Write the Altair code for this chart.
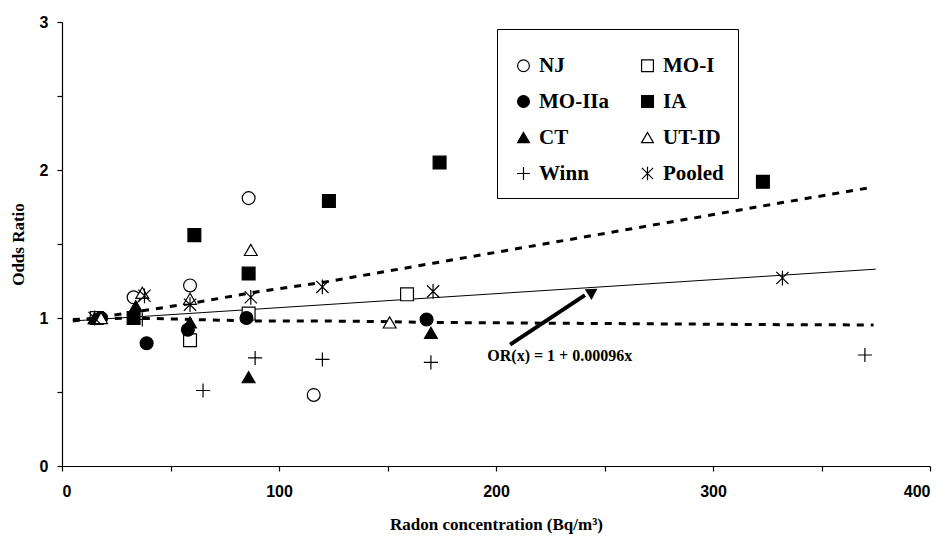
import altair as alt
import pandas as pd

# ---------------- data ----------------
series_names = ["NJ", "MO-I", "MO-IIa", "IA", "CT", "UT-ID", "Winn", "Pooled"]
# legend fills column by column: list the two columns one after the other
legend_order = ["NJ", "MO-IIa", "CT", "Winn", "MO-I", "IA", "UT-ID", "Pooled"]

nj_x = [17, 33, 59, 86, 116]
nj_y = [1.00, 1.14, 1.22, 1.81, 0.48]

moi_x = [16, 59, 86, 159]
moi_y = [1.00, 0.85, 1.03, 1.16]

moiia_x = [18, 39, 58, 85, 168]
moiia_y = [1.00, 0.83, 0.92, 1.00, 0.99]

ia_x = [33, 61, 86, 123, 174, 323]
ia_y = [1.00, 1.56, 1.30, 1.79, 2.05, 1.92]

ct_x = [15, 34, 59, 86, 170]
ct_y = [1.00, 1.08, 0.97, 0.60, 0.90]

utid_x = [18, 37, 59, 87, 151]
utid_y = [1.00, 1.17, 1.13, 1.46, 0.97]

winn_x = [37, 65, 89, 120, 170, 370]
winn_y = [0.99, 0.51, 0.73, 0.72, 0.70, 0.75]

pooled_x = [15, 38, 59, 87, 120, 171, 332]
pooled_y = [1.00, 1.15, 1.09, 1.14, 1.21, 1.18, 1.27]

fit_x = [5, 375]
fit_y = [0.98, 1.33]

upper_x = [5, 15, 33, 60, 87, 120, 171, 332, 374]
upper_y = [0.98, 1.00, 1.04, 1.10, 1.17, 1.24, 1.37, 1.78, 1.885]

lower_x = [5, 33, 60, 87, 120, 151, 171, 332, 374]
lower_y = [0.99, 1.00, 0.99, 0.98, 0.98, 0.975, 0.97, 0.955, 0.953]

note_text = ["OR(x) = 1 + 0.00096x"]
note_x = [196]
note_y = [0.74]

arrow_x = [206.5, 241]
arrow_y = [0.82, 1.155]
arrow_head_x = [244.6]
arrow_head_y = [1.178]

y_ticks = [0, 0.5, 1, 1.5, 2, 2.5, 3]
x_ticks = [0, 50, 100, 150, 200, 250, 300, 350, 400]

# ---------------- tables ----------------
xs = [nj_x, moi_x, moiia_x, ia_x, ct_x, utid_x, winn_x, pooled_x]
ys = [nj_y, moi_y, moiia_y, ia_y, ct_y, utid_y, winn_y, pooled_y]
rows = []
for name, sx, sy in zip(series_names, xs, ys):
    for a, b in zip(sx, sy):
        rows.append({"series": name, "x": a, "y": b})
pts = pd.DataFrame(rows)

fit_df = pd.DataFrame({"x": fit_x, "y": fit_y})
up_df = pd.DataFrame({"x": upper_x, "y": upper_y})
lo_df = pd.DataFrame({"x": lower_x, "y": lower_y})
note_df = pd.DataFrame({"t": note_text, "x": note_x, "y": note_y})
arrow_df = pd.DataFrame({"x": arrow_x, "y": arrow_y})
head_df = pd.DataFrame({"x": arrow_head_x, "y": arrow_head_y})

plus_path = "M-1.1,0H1.1M0,-1.1V1.1"
star_path = "M0,-1.15V1.15M-0.95,-0.95L0.95,0.95M-0.95,0.95L0.95,-0.95"
shape_of = {"NJ": "circle", "MO-I": "square", "MO-IIa": "circle", "IA": "square",
            "CT": "triangle-up", "UT-ID": "triangle-up", "Winn": plus_path,
            "Pooled": star_path}
fill_of = {"NJ": "white", "MO-I": "white", "MO-IIa": "black", "IA": "black",
           "CT": "black", "UT-ID": "white", "Winn": "white", "Pooled": "white"}
shape_range = [shape_of[s] for s in legend_order]
fill_range = [fill_of[s] for s in legend_order]
stroke_range = ["black" for s in legend_order]

X = alt.X("x:Q", scale=alt.Scale(domain=[0, 400], nice=False, zero=False),
          axis=alt.Axis(values=x_ticks,
                        labelExpr="datum.value % 100 == 0 ? format(datum.value, 'd') : ''",
                        title="Radon concentration (Bq/m³)", grid=False,
                        tickSize=5, labelPadding=12, titlePadding=17))
Y = alt.Y("y:Q", scale=alt.Scale(domain=[0, 3], nice=False, zero=False),
          axis=alt.Axis(values=y_ticks,
                        labelExpr="datum.value % 1 == 0 ? format(datum.value, 'd') : ''",
                        title="Odds Ratio", grid=False,
                        tickSize=5, labelPadding=9, titlePadding=12))

legend = alt.Legend(
    title=" ", titleFontSize=6, titlePadding=6,
    orient="none", legendX=435, legendY=7,
    columns=2, columnPadding=26, rowPadding=14,
    padding=14, strokeColor="black", fillColor="white",
    symbolSize=140, symbolStrokeColor="black", symbolStrokeWidth=1.2, symbolOffset=2,
    labelFont="Liberation Serif", labelFontWeight="bold",
    labelFontSize=21, labelColor="black", labelOffset=5, labelLimit=74,
)

points = alt.Chart(pts).mark_point(
    filled=True, strokeWidth=1.2, size=165, opacity=1
).encode(
    x=X, y=Y,
    shape=alt.Shape("series:N", scale=alt.Scale(domain=legend_order, range=shape_range),
                    legend=legend),
    fill=alt.Fill("series:N", scale=alt.Scale(domain=legend_order, range=fill_range),
                  legend=legend),
    stroke=alt.Stroke("series:N", scale=alt.Scale(domain=legend_order, range=stroke_range),
                      legend=legend),
)

fit_line = alt.Chart(fit_df).mark_line(color="black", strokeWidth=1).encode(x="x:Q", y="y:Q")
upper_line = alt.Chart(up_df).mark_line(color="black", strokeWidth=3, strokeDash=[7, 7]).encode(x="x:Q", y="y:Q")
lower_line = alt.Chart(lo_df).mark_line(color="black", strokeWidth=3, strokeDash=[7, 7]).encode(x="x:Q", y="y:Q")

note = alt.Chart(note_df).mark_text(
    align="left", baseline="middle", font="Liberation Serif", fontWeight="bold",
    fontSize=16, color="black"
).encode(x="x:Q", y="y:Q", text="t:N")

arrow_line = alt.Chart(arrow_df).mark_line(color="black", strokeWidth=4, strokeCap="butt").encode(x="x:Q", y="y:Q")
arrow_head = alt.Chart(head_df).mark_point(
    shape="triangle-up", filled=True, color="black", size=160, angle=58, opacity=1
).encode(x="x:Q", y="y:Q")

chart = alt.layer(
    upper_line, lower_line, fit_line, points, arrow_line, arrow_head, note
).properties(
    width=868, height=444,
    autosize=alt.AutoSizeParams(type="none"),
    padding={"left": 54, "top": 14, "right": 13, "bottom": 69},
    background="white",
).configure_view(stroke=None).configure_axis(
    domainColor="black", tickColor="black", labelColor="black", titleColor="black",
    labelFont="Liberation Sans", labelFontWeight="bold", labelFontSize=16,
    titleFont="Liberation Serif", titleFontWeight="bold", titleFontSize=17,
    domainWidth=1.2, tickWidth=1.2,
)

chart.save("out.html", embed_options={"renderer": "svg", "actions": False})
